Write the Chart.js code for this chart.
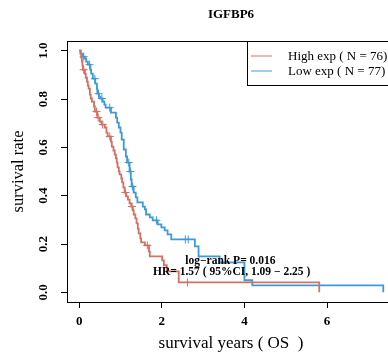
<!DOCTYPE html>
<html><head><meta charset="utf-8">
<script src="https://cdn.jsdelivr.net/npm/chart.js@4.4.1/dist/chart.umd.min.js"></script>
<style>
html,body{margin:0;padding:0;overflow:hidden;background:#fff;width:388px;height:357px}
#wrap{position:relative;width:400px;height:357px}
canvas{display:block}
</style>
</head><body><div id="wrap"><canvas id="c" width="400" height="357"></canvas></div>
<script>
// ---- data ----
const titleText = 'IGFBP6';
const seriesNames = ['High exp ( N = 76)', 'Low exp ( N = 77)'];
const highTimes = [0,0.03,0.05,0.065,0.08,0.09,0.14,0.16,0.19,0.21,0.23,0.26,0.28,0.31,0.36,0.38,0.44,0.50,0.54,0.62,0.66,0.69,0.77,0.79,0.83,0.86,0.89,0.91,0.93,0.96,0.98,1.02,1.04,1.07,1.10,1.14,1.18,1.22,1.26,1.30,1.32,1.36,1.39,1.42,1.44,1.48,1.50,1.59,1.69,1.71,2.01,2.05,2.12,2.41,5.81];
const highSurv  = [1,0.988,0.971,0.955,0.938,0.921,0.905,0.888,0.872,0.855,0.843,0.818,0.802,0.789,0.769,0.748,0.723,0.707,0.694,0.682,0.661,0.645,0.624,0.603,0.587,0.570,0.554,0.537,0.517,0.500,0.488,0.471,0.455,0.434,0.413,0.397,0.384,0.368,0.355,0.339,0.322,0.306,0.285,0.264,0.244,0.223,0.207,0.194,0.169,0.149,0.132,0.112,0.087,0.041,0];
const highCensor = [0.11,0.42,0.46,0.57,0.74,1.12,1.28,1.65,2.62];
const lowTimes = [0,0.04,0.09,0.14,0.17,0.21,0.27,0.29,0.33,0.39,0.43,0.44,0.48,0.51,0.57,0.61,0.64,0.77,0.89,0.92,0.96,1.00,1.03,1.08,1.13,1.16,1.22,1.25,1.27,1.32,1.37,1.41,1.54,1.59,1.62,1.71,1.78,1.90,1.99,2.07,2.14,2.23,2.80,2.89,3.40,4.00,4.19,7.36];
const lowSurv  = [1,0.988,0.975,0.967,0.955,0.942,0.921,0.905,0.884,0.864,0.843,0.822,0.810,0.802,0.789,0.777,0.764,0.744,0.723,0.702,0.682,0.661,0.632,0.591,0.562,0.537,0.500,0.467,0.438,0.413,0.393,0.372,0.355,0.343,0.322,0.310,0.298,0.281,0.269,0.256,0.240,0.219,0.190,0.149,0.124,0.050,0.029,0];
const lowCensor = [0.11,0.25,0.38,0.47,0.55,0.74,1.20,1.24,1.29,1.87,2.57,2.64];
const xTicks = [0,2,4,6];
const yTicks = [0,0.2,0.4,0.6,0.8,1.0];
const pText = 'log\u2212rank P= 0.016';
const hrText = 'HR= 1.57 ( 95%CI, 1.09 \u2212 2.25 )';

const RED = 'rgb(212,112,100)';
const BLUE = 'rgb(62,154,212)';
const SERIF = '"Liberation Serif","DejaVu Serif",serif';

function pts(t, s){ return t.map((v,i)=>({x:v,y:s[i]})); }
function survAt(t, s, time){ let v=1; for(let i=0;i<t.length;i++){ if(t[i]<=time) v=s[i]; } return v; }
function censorPts(t, s, c){ return c.map(x=>({x:x,y:survAt(t,s,x)})); }

const overlay = {
  id:'overlay',
  afterDatasetsDraw(chart){
    const {ctx, chartArea:a, scales:{x,y}} = chart;
    ctx.save();
    // frame
    ctx.strokeStyle='#000'; ctx.lineWidth=1;
    ctx.strokeRect(Math.round(a.left)+0.5, Math.round(a.top)+0.5, Math.round(a.right-a.left), Math.round(a.bottom-a.top));
    // title
    ctx.fillStyle='#000';
    ctx.font='bold 13px '+SERIF; ctx.textAlign='center'; ctx.textBaseline='middle';
    ctx.fillText(titleText, (a.left+a.right)/2, 15);
    // annotations
    ctx.font='bold 11.5px '+SERIF;
    ctx.fillText(pText, x.getPixelForValue(3.66), y.getPixelForValue(0.128));
    ctx.fillText(hrText, x.getPixelForValue(3.69), y.getPixelForValue(0.082));
    // legend
    const lx=247.5, ly=41.5;
    ctx.fillStyle='#fff'; ctx.fillRect(lx, ly, 160, 44);
    ctx.strokeStyle='#000'; ctx.strokeRect(lx, ly, 160, 44);
    ctx.lineWidth=1;
    const rows=[[RED,56],[BLUE,71]];
    ctx.font='13px '+SERIF; ctx.textAlign='left'; ctx.fillStyle='#000';
    rows.forEach((r,i)=>{
      ctx.strokeStyle=r[0]; ctx.beginPath(); ctx.moveTo(251,r[1]); ctx.lineTo(272,r[1]); ctx.stroke();
      ctx.fillText(seriesNames[i], 288, r[1]+0.5);
    });
    ctx.restore();
  }
};

new Chart(document.getElementById('c'), {
  type:'line',
  data:{datasets:[
    {data:pts(highTimes,highSurv), borderColor:RED, borderWidth:1.8, stepped:'before', pointRadius:0, fill:false},
    {data:pts(lowTimes,lowSurv), borderColor:BLUE, borderWidth:1.8, stepped:'before', pointRadius:0, fill:false},
    {data:censorPts(highTimes,highSurv,highCensor), showLine:false, pointStyle:'cross', pointRadius:4, borderColor:RED, borderWidth:1},
    {data:censorPts(lowTimes,lowSurv,lowCensor), showLine:false, pointStyle:'cross', pointRadius:4, borderColor:BLUE, borderWidth:1}
  ]},
  options:{
    responsive:false, animation:false, devicePixelRatio:1,
    layout:{padding:{top:41,right:4,left:0,bottom:0}},
    plugins:{legend:{display:false}, tooltip:{enabled:false}, title:{display:false}},
    scales:{
      x:{type:'linear', min:-0.294, max:7.644,
        afterBuildTicks:s=>{s.ticks=xTicks.map(v=>({value:v}));},
        afterFit:s=>{s.height=55;},
        grid:{display:true, drawOnChartArea:false, drawTicks:true, tickLength:6, color:'#000'},
        border:{display:false},
        ticks:{color:'#000', padding:6, font:{family:SERIF, size:13, weight:'bold'}, callback:v=>String(v), maxRotation:0},
        title:{display:true, text:'survival years ( OS  )', color:'#000', font:{family:SERIF, size:17}, padding:{top:0,bottom:3}}
      },
      y:{type:'linear', min:-0.04, max:1.04,
        afterBuildTicks:s=>{s.ticks=yTicks.map(v=>({value:v}));},
        afterFit:s=>{s.width=67;},
        grid:{display:true, drawOnChartArea:false, drawTicks:true, tickLength:6, color:'#000'},
        border:{display:false},
        ticks:{color:'#000', padding:9, minRotation:90, maxRotation:90, crossAlign:'center', font:{family:SERIF, size:13, weight:'bold'}, callback:v=>Number(v).toFixed(1)},
        title:{display:true, text:'survival rate', color:'#000', font:{family:SERIF, size:16.5}, padding:{top:9,bottom:0}}
      }
    }
  },
  plugins:[overlay]
});
</script></body></html>
